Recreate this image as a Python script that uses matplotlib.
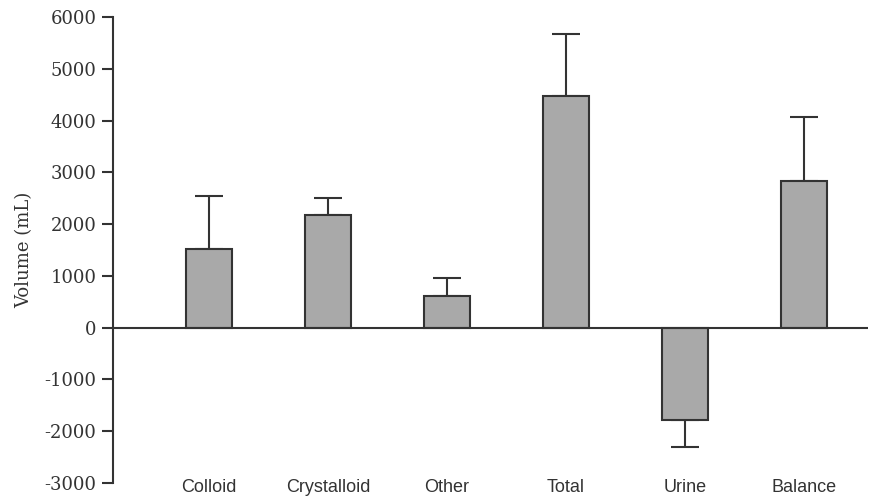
import matplotlib
matplotlib.use("Agg")
import matplotlib.pyplot as plt
from matplotlib import font_manager
import numpy as np

categories = ["Colloid", "Crystalloid", "Other", "Total", "Urine", "Balance"]
means = [1510, 2180, 620, 4480, -1780, 2840]
errors = [1040, 330, 330, 1200, 520, 1220]
yticks = [-3000, -2000, -1000, 0, 1000, 2000, 3000, 4000, 5000, 6000]

names = sorted({f.name for f in font_manager.fontManager.ttflist})
print(names)

fig = plt.figure(figsize=(8.7, 5.0), dpi=100)
ax = fig.add_axes([113/870, 17/500, (868-113)/870, (483-17)/500])

x = np.arange(len(categories))
edge = "#333333"
ax.bar(x, means, width=0.39, color="#a9a9a9", edgecolor=edge, linewidth=1.5, zorder=2)
for xi, m, e in zip(x, means, errors):
    lo = 0 if m >= 0 else e
    hi = e if m >= 0 else 0
    ax.errorbar(xi, m, yerr=[[lo], [hi]], fmt="none", ecolor=edge, elinewidth=1.5,
                capsize=10, capthick=1.5, zorder=1)

ax.axhline(0, color=edge, linewidth=1.5, zorder=3)
ax.set_xlim(-0.807, 5.54)
ax.set_ylim(-3000, 6000)
ax.set_yticks(yticks)
ax.set_yticklabels([str(v) for v in yticks], family="DejaVu Serif", fontsize=13, color="#333333")
ax.set_xticks([])
for s in ["top", "right", "bottom"]:
    ax.spines[s].set_visible(False)
ax.spines["left"].set_color(edge)
ax.spines["left"].set_linewidth(1.5)
ax.tick_params(axis="y", length=8, width=1.5, color=edge, pad=4)

ax.set_ylabel("Volume (mL)", family="DejaVu Serif", fontsize=13, color="#333333", labelpad=8)

for xi, name in zip(x, categories):
    ax.text(xi, -3090, name, ha="center", va="center", fontsize=13,
            family=["DejaVu Sans Condensed", "DejaVu Serif Condensed", "Liberation Sans"],
            color="#333333", clip_on=False)

fig.savefig("out.png", dpi=100)
